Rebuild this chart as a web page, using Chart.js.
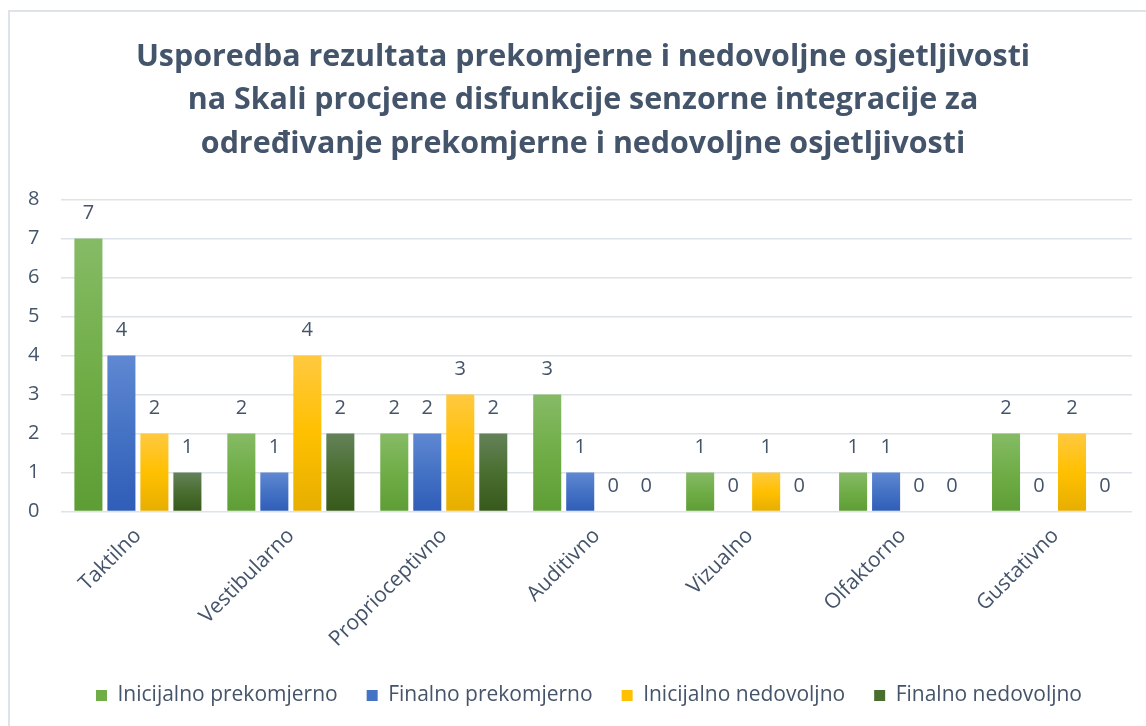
<!DOCTYPE html>
<html>
<head>
<meta charset="utf-8">
<script src="https://cdn.jsdelivr.net/npm/chart.js@4.4.1/dist/chart.umd.min.js"></script>
<style>
  html, body { margin: 0; padding: 0; background: #fff; overflow: hidden; }
  #frame { position: absolute; left: 8px; top: 10px; width: 1200px; height: 800px; border: 2px solid #DEE3EA; box-sizing: border-box; }
  #wrap { position: absolute; left: 0; top: 0; width: 1146px; height: 726px; }
</style>
</head>
<body>
<div id="frame"></div>
<div id="wrap"><canvas id="chartHTML"></canvas></div>
<script>
// data
var categories = ['Taktilno','Vestibularno','Proprioceptivno','Auditivno','Vizualno','Olfaktorno','Gustativno'];
var seriesNames = ['Inicijalno prekomjerno','Finalno prekomjerno','Inicijalno nedovoljno','Finalno nedovoljno'];
var inicijalnoPrekomjerno = [7,2,2,3,1,1,2];
var finalnoPrekomjerno    = [4,1,2,1,0,1,0];
var inicijalnoNedovoljno  = [2,4,3,0,1,0,2];
var finalnoNedovoljno     = [1,2,2,0,0,0,0];
var yTicks = [0,1,2,3,4,5,6,7,8];

var textCol = '#44546A';
var fontFam = "'Open Sans', 'DejaVu Sans', sans-serif";

// gradient stops per series: top, middle, bottom
var gradStops = [
  ['#86BB66','#70AD47','#5E9D36'],
  ['#6088D2','#4472C4','#2F5DB8'],
  ['#FFC940','#FFC000','#E6AE00'],
  ['#64825A','#4A6E30','#375A1C']
];

function barGradient(i){
  return function(ctx){
    var chart = ctx.chart;
    var s = gradStops[i];
    if (!chart.chartArea || ctx.type !== 'data') return s[1];
    var y = chart.scales.y;
    var top = y.getPixelForValue(ctx.raw);
    var bot = y.getPixelForValue(0);
    if (bot - top < 1) return s[1];
    var g = chart.ctx.createLinearGradient(0, top, 0, bot);
    g.addColorStop(0, s[0]);
    g.addColorStop(0.5, s[1]);
    g.addColorStop(1, s[2]);
    return g;
  };
}

// value labels above each bar
var topLabels = {
  id: 'topLabels',
  afterDatasetsDraw: function(chart){
    var c = chart.ctx;
    c.save();
    c.font = '20px ' + fontFam;
    c.fillStyle = textCol;
    c.textAlign = 'center';
    c.textBaseline = 'middle';
    chart.data.datasets.forEach(function(ds, di){
      chart.getDatasetMeta(di).data.forEach(function(bar, k){
        c.fillText(String(ds.data[k]), bar.x, bar.y - 25);
      });
    });
    c.restore();
  }
};

// title and legend sit a bit right of the canvas centre in the original
var nudgeBoxes = {
  id: 'nudgeBoxes',
  afterLayout: function(chart){
    if (chart.titleBlock) { chart.titleBlock.left += 14; chart.titleBlock.right += 14; }
    if (chart.legend) { chart.legend.left += 20; chart.legend.right += 20; }
  }
};

var allSeries = [inicijalnoPrekomjerno, finalnoPrekomjerno, inicijalnoNedovoljno, finalnoNedovoljno];

chartSenzorno = new Chart(document.getElementById('chartHTML'), {
  type: 'bar',
  data: {
    labels: categories,
    datasets: allSeries.map(function(vals, i){
      return {
        label: seriesNames[i],
        data: vals,
        backgroundColor: barGradient(i),
        categoryPercentage: 0.863,
        barPercentage: 0.85
      };
    })
  },
  options: {
    responsive: true,
    maintainAspectRatio: false,
    animation: false,
    layout: { padding: { top: 36, left: 6, right: 14, bottom: 10 } },
    scales: {
      y: {
        min: 0, max: 8,
        afterBuildTicks: function(axis){ axis.ticks = yTicks.map(function(v){ return {value: v}; }); },
        border: { display: false },
        grid: { color: '#DEE3EA', lineWidth: 1.5, drawTicks: false },
        ticks: { color: textCol, font: { family: fontFam, size: 20 }, padding: 22 }
      },
      x: {
        border: { display: false },
        grid: { display: false },
        ticks: { color: textCol, font: { family: fontFam, size: 21 }, minRotation: 45, maxRotation: 45, padding: 4 }
      }
    },
    plugins: {
      title: {
        display: true,
        text: ['Usporedba rezultata prekomjerne i nedovoljne osjetljivosti',
               'na Skali procjene disfunkcije senzorne integracije za',
               'određivanje prekomjerne i nedovoljne osjetljivosti'],
        color: textCol,
        font: { family: fontFam, size: 30.4, weight: 'bold', lineHeight: 1.42 },
        padding: { top: 0, bottom: 34 }
      },
      legend: {
        position: 'bottom',
        labels: {
          color: textCol,
          font: { family: fontFam, size: 21 },
          boxWidth: 11, boxHeight: 11,
          padding: 29,
          generateLabels: function(chart){
            return seriesNames.map(function(n, i){
              return { text: n, fillStyle: gradStops[i][1], strokeStyle: gradStops[i][1], lineWidth: 0, fontColor: textCol, datasetIndex: i };
            });
          }
        }
      },
      tooltip: { enabled: false }
    }
  },
  plugins: [topLabels, nudgeBoxes]
});
</script>
</body>
</html>
